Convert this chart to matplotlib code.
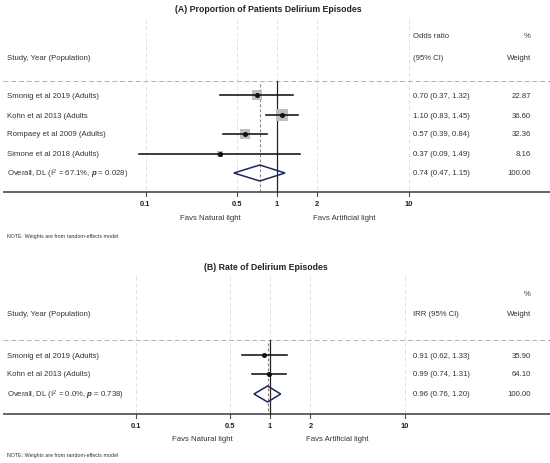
import matplotlib
matplotlib.use("Agg")
import matplotlib.pyplot as plt
from matplotlib.patches import Polygon
from matplotlib.transforms import blended_transform_factory

plt.rcParams['font.family'] = ['Liberation Sans', 'DejaVu Sans']
plt.rcParams['mathtext.fontset'] = 'custom'
plt.rcParams['mathtext.rm'] = 'Liberation Sans'
plt.rcParams['mathtext.it'] = 'Liberation Sans:bold:italic'

# (A) proportion of patients with delirium episodes
studies_a = ["Smonig et al 2019 (Adults)", "Kohn et al 2013 (Adults",
             "Rompaey et al 2009 (Adults)", "Simone et al 2018 (Adults)"]
est_a = [0.70, 1.10, 0.57, 0.37]
lo_a = [0.37, 0.83, 0.39, 0.09]
hi_a = [1.32, 1.45, 0.84, 1.49]
w_a = [22.87, 36.60, 32.36, 8.16]
overall_a = [0.74, 0.47, 1.15]
overall_w_a = 100.00
i2_a, p_a = "67.1%", "0.028"

# (B) rate of delirium episodes
studies_b = ["Smonig et al 2019 (Adults)", "Kohn et al 2013 (Adults)"]
est_b = [0.91, 0.99]
lo_b = [0.62, 0.74]
hi_b = [1.33, 1.31]
w_b = [35.90, 64.10]
overall_b = [0.96, 0.76, 1.20]
overall_w_b = 100.00
i2_b, p_b = "0.0%", "0.738"

ticks = [0.1, 0.5, 1, 2, 10]
tick_labels = ["0.1", "0.5", "1", "2", "10"]

W, H = 550, 464
TXT = '#333333'
fig = plt.figure(figsize=(5.5, 4.64), dpi=100)


def panel(top, bottom, x1, dec, title, head1, head2, studies, est, lo, hi, w,
          overall, overall_w, i2, p, box_k, y_title, y_vtop, y_h1, y_h2, y_sep,
          rows, y_ov, y_axis, y_fav, y_note, title_x, fav_x):
    ax = fig.add_axes([0, (H - bottom) / H, 1, (bottom - top) / H])
    ax.set_xscale('log')
    ax.set_xlim(10 ** (-x1 / dec), 10 ** ((W - x1) / dec))
    ax.set_ylim(bottom, top)
    ax.axis('off')
    tr = blended_transform_factory(ax.transAxes, ax.transData)

    ax.text(title_x / W, y_title, title, transform=tr, ha='center', va='center',
            fontsize=6.3, fontweight='bold', color='#222222')

    # grid and reference lines
    for t in ticks:
        ax.plot([t, t], [y_vtop, y_axis], color='#dcdcdc', lw=0.6,
                dashes=(5, 3), zorder=1)
    ax.plot([1, 1], [y_sep, y_axis], color='#222222', lw=0.9, zorder=3)
    ax.plot([overall[0], overall[0]], [y_sep + 3, y_axis], color='#a57582',
            lw=0.8, dashes=(2.5, 2), zorder=2)
    ax.plot([3 / W, 1], [y_sep, y_sep], transform=tr, color='#b0b0b0', lw=0.7,
            dashes=(5, 3))

    # headers
    ax.text(7 / W, y_h2, "Study, Year (Population)", transform=tr, fontsize=5.6,
            va='center', color=TXT)
    if head1:
        ax.text(413 / W, y_h1, head1, transform=tr, fontsize=5.6, va='center', color=TXT)
    ax.text(413 / W, y_h2, head2, transform=tr, fontsize=5.6, va='center', color=TXT)
    ax.text(531 / W, y_h1, "%", transform=tr, fontsize=5.6, va='center', ha='right', color=TXT)
    ax.text(531 / W, y_h2, "Weight", transform=tr, fontsize=5.6, va='center', ha='right', color=TXT)

    # studies
    for name, e, l, h, wt, y in zip(studies, est, lo, hi, w, rows):
        ax.plot([l, h], [y, y], color='#111111', lw=1.15, zorder=4)
        ax.scatter([e], [y], marker='s', s=box_k * wt, color='#bdbdbd', lw=0, zorder=3)
        ax.plot([e], [y], 'o', color='#111111', ms=2.6, zorder=5)
        ax.text(7 / W, y, name, transform=tr, fontsize=5.6, va='center', color=TXT)
        ax.text(413 / W, y, f"{e:.2f} ({l:.2f}, {h:.2f})", transform=tr,
                fontsize=5.6, va='center', color=TXT)
        ax.text(531 / W, y, f"{wt:.2f}", transform=tr, fontsize=5.6,
                va='center', ha='right', color=TXT)

    # overall diamond
    e, l, h = overall
    ax.add_patch(Polygon([[l, y_ov], [e, y_ov - 8], [h, y_ov], [e, y_ov + 8]],
                         closed=True, fill=False, edgecolor='#1c2660', lw=1.1, zorder=6))
    ax.text(7 / W, y_ov, f"Overall, DL (I$^2$ = {i2}, $p$ = {p})", transform=tr,
            fontsize=5.6, va='center', color=TXT)
    ax.text(413 / W, y_ov, f"{e:.2f} ({l:.2f}, {h:.2f})", transform=tr,
            fontsize=5.6, va='center', color=TXT)
    ax.text(531 / W, y_ov, f"{overall_w:.2f}", transform=tr, fontsize=5.6,
            va='center', ha='right', color=TXT)

    # axis
    ax.plot([3 / W, 1], [y_axis, y_axis], transform=tr, color='#4a4a4a', lw=1.2,
            solid_capstyle='butt')
    for t, lab in zip(ticks, tick_labels):
        ax.plot([t, t], [y_axis, y_axis + 4], color='#4a4a4a', lw=0.8)
        ax.text(t, y_axis + 12, lab, ha='center', va='center', fontsize=5.4,
                fontweight='bold', color='#222222')
    ax.text(fav_x[0] / W, y_fav, "Favs Natural light", transform=tr, ha='center',
            va='center', fontsize=5.6, color=TXT)
    ax.text(fav_x[1] / W, y_fav, "Favs Artificial light", transform=tr, ha='center',
            va='center', fontsize=5.6, color=TXT)
    ax.text(7 / W, y_note, "NOTE: Weights are from random-effects model",
            transform=tr, va='center', fontsize=3.8, color=TXT)


panel(0, 250, 277, 131.5, "(A) Proportion of Patients Delirium Episodes",
      "Odds ratio", "(95% CI)", studies_a, est_a, lo_a, hi_a, w_a, overall_a,
      overall_w_a, i2_a, p_a, 1.9, 10, 20, 37, 58, 82, [96, 116, 135, 155],
      174, 193, 219, 237, 268, (210, 344))

panel(250, 464, 270, 134.5, "(B) Rate of Delirium Episodes",
      None, "IRR (95% CI)", studies_b, est_b, lo_b, hi_b, w_b, overall_b,
      overall_w_b, i2_b, p_b, 0.12, 267, 277, 295, 315, 341, [356, 375], 395,
      415, 440, 456, 266, (202, 337))

fig.savefig("out.png", dpi=100, facecolor='white')
